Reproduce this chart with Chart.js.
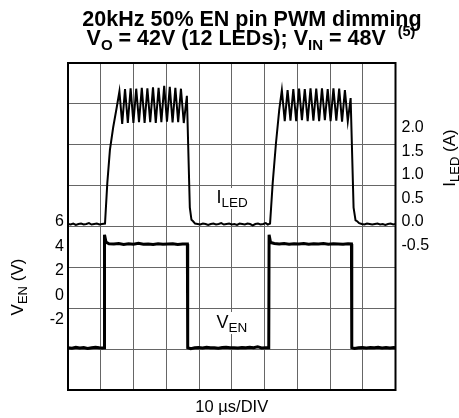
<!DOCTYPE html>
<html>
<head>
<meta charset="utf-8">
<script src="https://cdn.jsdelivr.net/npm/chart.js@4/dist/chart.umd.min.js"></script>
<style>
html,body{margin:0;padding:0;background:#fff;}
#wrap{width:459px;height:418px;position:relative;}
</style>
</head>
<body>
<div id="wrap"><canvas id="c" width="459" height="418"></canvas></div>
<script>
// ---- data ----
const iledTime = [
  0.0,0.8,1.6,2.4,3.2,4.0,4.8,5.6,6.4,7.2,8.0,8.8,9.6,10.4,11.3,
  12.0,12.8,13.8,14.9,15.7,
  16.55,17.41,18.27,19.12,19.97,20.83,21.68,22.53,23.39,24.24,25.10,25.95,26.80,27.66,28.51,29.37,30.22,31.08,31.93,32.78,33.64,34.49,35.35,36.30,
  37.20,37.70,38.20,38.80,
  39.6,40.4,41.2,42.0,42.8,43.6,44.4,45.2,46.0,46.8,47.6,48.4,49.2,50.0,50.8,51.6,52.4,53.2,54.0,54.8,55.6,56.4,57.2,58.0,58.8,59.6,60.4,61.0,61.7,
  62.5,63.5,64.5,65.3,
  66.18,67.05,67.93,68.80,69.68,70.55,71.43,72.30,73.18,74.05,74.93,75.80,76.68,77.55,78.43,79.30,80.18,81.05,81.93,82.80,83.68,84.55,85.43,86.30,
  87.20,87.80,88.30,88.90,
  89.7,90.5,91.3,92.1,92.9,93.7,94.5,95.3,96.1,96.9,97.7,98.5,99.3,100.0
];
const iledAmps = [
  -0.05,-0.06,-0.04,-0.07,-0.05,-0.04,-0.06,-0.05,-0.03,-0.06,-0.05,-0.04,-0.06,-0.05,-0.04,
  0.82,1.53,2.01,2.44,2.77,
  2.08,2.82,2.10,2.84,2.10,2.83,2.12,2.85,2.10,2.84,2.12,2.86,2.10,2.85,2.12,2.89,2.13,2.87,2.11,2.85,2.12,2.83,2.10,2.68,
  0.30,0.04,0.01,-0.04,
  -0.05,-0.06,-0.04,-0.05,-0.07,-0.05,-0.04,-0.06,-0.05,-0.03,-0.06,-0.05,-0.04,-0.06,-0.05,-0.07,-0.04,-0.05,-0.06,-0.04,-0.05,-0.08,-0.05,-0.04,-0.06,-0.05,-0.03,-0.06,-0.04,
  0.82,1.67,2.38,2.80,
  2.14,2.80,2.15,2.82,2.14,2.83,2.16,2.82,2.14,2.84,2.15,2.83,2.14,2.84,2.16,2.82,2.14,2.84,2.15,2.83,2.13,2.80,2.14,2.63,
  0.30,0.03,0.01,-0.03,
  -0.05,-0.06,-0.04,-0.05,-0.06,-0.05,-0.04,-0.06,-0.05,-0.07,-0.05,-0.04,-0.06,-0.05
];
const venTime = [
  0,1.2,2.4,3.6,4.8,6.0,7.2,8.4,9.6,10.6,11.05,
  11.15,11.6,12.5,14.0,15.5,17.0,18.5,20.0,21.5,23.0,24.5,26.0,27.5,29.0,30.5,32.0,33.5,35.0,36.45,
  36.55,37.5,38.7,39.9,41.1,42.3,43.5,44.7,45.9,47.1,48.3,49.5,50.7,51.9,53.1,54.3,55.5,56.7,57.9,59.1,60.3,61.30,
  61.40,61.85,63.0,64.5,66.0,67.5,69.0,70.5,72.0,73.5,75.0,76.5,78.0,79.5,81.0,82.5,84.0,85.5,86.55,
  86.65,87.5,88.7,89.9,91.1,92.3,93.5,94.7,95.9,97.1,98.3,99.5,100
];
const venVolts = [
  -4.30,-4.34,-4.27,-4.32,-4.29,-4.36,-4.30,-4.26,-4.31,-4.33,-4.30,
  4.95,4.35,4.22,4.19,4.24,4.16,4.21,4.18,4.25,4.17,4.20,4.16,4.22,4.17,4.20,4.22,4.16,4.19,4.20,
  -4.30,-4.38,-4.31,-4.29,-4.33,-4.27,-4.31,-4.30,-4.35,-4.29,-4.26,-4.31,-4.30,-4.33,-4.28,-4.31,-4.27,-4.30,-4.22,-4.32,-4.30,-4.31,
  4.95,4.32,4.24,4.20,4.23,4.18,4.22,4.19,4.24,4.18,4.21,4.19,4.23,4.18,4.21,4.20,4.17,4.21,4.20,
  -4.30,-4.37,-4.31,-4.28,-4.32,-4.29,-4.31,-4.27,-4.32,-4.29,-4.33,-4.28,-4.30
];
const venTicks = [6, 4, 2, 0, -2];
const iledTicks = [2.0, 1.5, 1.0, 0.5, 0.0, -0.5];
const timeMin = 0, timeMax = 100, timePerDiv = 10;
const gridDivisionsY = 8;

// ---- texts ----
const titleLine1 = '20kHz 50% EN pin PWM dimming';
const xTitle = '10 µs/DIV';

const FONT = '"Liberation Sans", Arial, Helvetica, sans-serif';

function drawRuns(ctx, runs, x, baseline, align) {
  let total = 0;
  runs.forEach(r => { ctx.font = (r.bold ? 'bold ' : '') + r.size + 'px ' + FONT; r.w = ctx.measureText(r.t).width; total += r.w; });
  let cx = align === 'center' ? x - total / 2 : x;
  ctx.textBaseline = 'alphabetic';
  ctx.textAlign = 'left';
  runs.forEach(r => {
    ctx.font = (r.bold ? 'bold ' : '') + r.size + 'px ' + FONT;
    ctx.fillText(r.t, cx, baseline + (r.dy || 0));
    cx += r.w;
  });
  return total;
}

const overlay = {
  id: 'overlay',
  afterDatasetsDraw(chart) {
    const ctx = chart.ctx;
    const a = chart.chartArea;
    ctx.save();
    // plot frame
    ctx.strokeStyle = '#000';
    ctx.lineWidth = 2;
    ctx.strokeRect(a.left, a.top, a.right - a.left, a.bottom - a.top);
    ctx.fillStyle = '#000';
    // title
    drawRuns(ctx, [{t: titleLine1, size: 21.5, bold: true}], 252, 26, 'center');
    drawRuns(ctx, [
      {t: 'V', size: 21.5, bold: true},
      {t: 'O', size: 15, bold: true, dy: 5},
      {t: ' = 42V (12 LEDs); V', size: 21.5, bold: true},
      {t: 'IN', size: 15, bold: true, dy: 5},
      {t: ' = 48V  ', size: 21.5, bold: true},
      {t: '(5)', size: 14.5, bold: true, dy: -9}
    ], 251, 45, 'center');
    // in-plot labels with white boxes
    ctx.fillStyle = '#fff';
    ctx.fillRect(214, 188, 36, 21);
    ctx.fillRect(214, 312, 35, 22);
    ctx.fillStyle = '#000';
    drawRuns(ctx, [{t: 'I', size: 18}, {t: 'LED', size: 13.5, dy: 4}], 216.5, 202.5, 'left');
    drawRuns(ctx, [{t: 'V', size: 18}, {t: 'EN', size: 13.5, dy: 4}], 216.5, 328, 'left');
    // left axis title (rotated)
    ctx.save();
    ctx.translate(23, 287);
    ctx.rotate(-Math.PI / 2);
    drawRuns(ctx, [{t: 'V', size: 17}, {t: 'EN', size: 13, dy: 4}, {t: ' (V)', size: 17}], 0, 0, 'center');
    ctx.restore();
    // right axis title (rotated)
    ctx.save();
    ctx.translate(455, 158);
    ctx.rotate(-Math.PI / 2);
    drawRuns(ctx, [{t: 'I', size: 17}, {t: 'LED', size: 13, dy: 4}, {t: ' (A)', size: 17}], 0, 0, 'center');
    ctx.restore();
    ctx.restore();
  }
};

const iledData = iledTime.map((t, i) => ({x: t, y: iledAmps[i]}));
const venData = venTime.map((t, i) => ({x: t, y: venVolts[i]}));

new Chart(document.getElementById('c').getContext('2d'), {
  type: 'line',
  data: {
    datasets: [
      {label: 'ILED', data: iledData, yAxisID: 'yI', borderColor: '#000', borderWidth: 2, pointRadius: 0, tension: 0, fill: false},
      {label: 'VEN', data: venData, yAxisID: 'yV', borderColor: '#000', borderWidth: 3, pointRadius: 0, tension: 0, fill: false}
    ]
  },
  options: {
    responsive: false,
    animation: false,
    devicePixelRatio: 1,
    layout: {padding: {top: 63, left: 0, right: 0, bottom: 0}},
    plugins: {legend: {display: false}, tooltip: {enabled: false}, title: {display: false}},
    scales: {
      x: {
        type: 'linear', min: timeMin, max: timeMax,
        ticks: {display: false, stepSize: timePerDiv},
        grid: {color: '#666', lineWidth: 1, drawTicks: false},
        border: {display: false},
        title: {display: true, text: xTitle, color: '#000', font: {family: FONT, size: 16.5}, padding: {top: 0, bottom: 1}},
        afterFit(s) { s.height = 28; }
      },
      yGrid: {
        type: 'linear', position: 'left', min: 0, max: gridDivisionsY,
        ticks: {display: false, stepSize: 1},
        grid: {color: '#666', lineWidth: 1, drawTicks: false},
        border: {display: false},
        afterFit(s) { s.width = 0; }
      },
      yV: {
        type: 'linear', position: 'left', min: -7.77, max: 19.03,
        afterBuildTicks(s) { s.ticks = venTicks.map(v => ({value: v})); },
        ticks: {color: '#000', font: {family: FONT, size: 16}, padding: 4, callback: v => String(v)},
        grid: {display: false, drawTicks: false},
        border: {display: false},
        afterFit(s) { s.width = 68; }
      },
      yI: {
        type: 'linear', position: 'right', min: -3.581, max: 3.377,
        afterBuildTicks(s) { s.ticks = iledTicks.map(v => ({value: v})); },
        ticks: {color: '#000', font: {family: FONT, size: 16}, padding: 6, callback: v => Number(v).toFixed(1)},
        grid: {display: false, drawTicks: false},
        border: {display: false},
        afterFit(s) { s.width = 63.5; }
      }
    }
  },
  plugins: [overlay]
});
</script>
</body>
</html>
